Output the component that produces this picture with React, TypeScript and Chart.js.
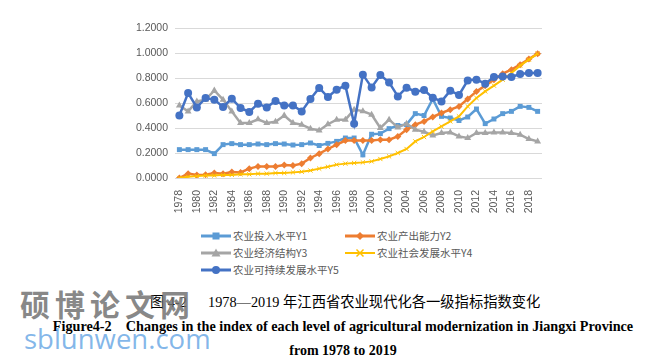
import React, { useEffect, useRef } from "react";
import { Chart, registerables } from "chart.js";

Chart.register(...registerables);

const years = [
  "1978", "1979", "1980", "1981", "1982", "1983", "1984", "1985", "1986", "1987",
  "1988", "1989", "1990", "1991", "1992", "1993", "1994", "1995", "1996", "1997",
  "1998", "1999", "2000", "2001", "2002", "2003", "2004", "2005", "2006", "2007",
  "2008", "2009", "2010", "2011", "2012", "2013", "2014", "2015", "2016", "2017",
  "2018", "2019",
];

const y1 = [
  0.227, 0.227, 0.227, 0.227, 0.195, 0.267, 0.275, 0.267, 0.267, 0.272,
  0.267, 0.275, 0.272, 0.264, 0.267, 0.28, 0.26, 0.277, 0.293, 0.32,
  0.32, 0.185, 0.35, 0.355, 0.395, 0.42, 0.427, 0.515, 0.5, 0.632,
  0.493, 0.48, 0.46, 0.488, 0.552, 0.435, 0.472, 0.515, 0.533, 0.573,
  0.565, 0.533,
];
const y2 = [
  0, 0.035, 0.024, 0.027, 0.04, 0.035, 0.048, 0.045, 0.075, 0.093,
  0.093, 0.093, 0.104, 0.101, 0.115, 0.16, 0.195, 0.232, 0.267, 0.3,
  0.3, 0.3, 0.3, 0.307, 0.307, 0.333, 0.387, 0.427, 0.453, 0.488,
  0.52, 0.547, 0.573, 0.632, 0.693, 0.739, 0.787, 0.835, 0.867, 0.907,
  0.952, 0.995,
];
const y3 = [
  0.58, 0.533, 0.613, 0.627, 0.7, 0.627, 0.533, 0.44, 0.44, 0.47,
  0.44, 0.45, 0.5, 0.44, 0.427, 0.395, 0.38, 0.43, 0.467, 0.467,
  0.547, 0.535, 0.507, 0.4, 0.467, 0.405, 0.435, 0.387, 0.37, 0.34,
  0.36, 0.365, 0.333, 0.32, 0.36, 0.36, 0.365, 0.365, 0.36, 0.347,
  0.312, 0.293,
];
const y4 = [
  0, 0.01, 0.015, 0.02, 0.02, 0.025, 0.025, 0.03, 0.03, 0.035,
  0.035, 0.04, 0.04, 0.045, 0.05, 0.06, 0.075, 0.09, 0.107, 0.115,
  0.12, 0.125, 0.133, 0.152, 0.173, 0.2, 0.232, 0.293, 0.328, 0.373,
  0.413, 0.453, 0.493, 0.573, 0.64, 0.693, 0.739, 0.787, 0.84, 0.899,
  0.947, 0.995,
];
const y5 = [
  0.5, 0.68, 0.565, 0.64, 0.627, 0.568, 0.635, 0.56, 0.528, 0.595,
  0.565, 0.616, 0.58, 0.58, 0.533, 0.632, 0.72, 0.648, 0.707, 0.739,
  0.435, 0.827, 0.725, 0.824, 0.765, 0.653, 0.723, 0.69, 0.704, 0.643,
  0.613, 0.699, 0.664, 0.781, 0.787, 0.755, 0.808, 0.813, 0.808, 0.832,
  0.84, 0.84,
];

const seriesNames = ["农业投入水平Y1", "农业产出能力Y2", "农业经济结构Y3", "农业社会发展水平Y4", "农业可持续发展水平Y5"];
const seriesColors = ["#5B9BD5", "#ED7D31", "#A5A5A5", "#FFC000", "#4472C4"];
const seriesShapes = ["rect", "rectRot", "triangle", "crossRot", "circle"];
const seriesData = [y1, y2, y3, y4, y5];

const captionCnA = "图 4-2";
const captionCnB = "1978—2019 年江西省农业现代化各一级指标指数变化";
const captionEn1 = "Figure4-2\u00a0\u00a0\u00a0 Changes in the index of each level of agricultural modernization in Jiangxi Province";
const captionEn2 = "from 1978 to 2019";

function Marker({ shape, color }: { shape: string; color: string }) {
  const cx = 15, cy = 5;
  let m: any = null;
  if (shape === "rect") m = <rect x={cx - 3.5} y={cy - 3.5} width={7} height={7} fill={color} />;
  else if (shape === "rectRot") m = <polygon points={`${cx},${cy - 4} ${cx + 4},${cy} ${cx},${cy + 4} ${cx - 4},${cy}`} fill={color} />;
  else if (shape === "triangle") m = <polygon points={`${cx},${cy - 4.5} ${cx + 4.5},${cy + 3.5} ${cx - 4.5},${cy + 3.5}`} fill={color} />;
  else if (shape === "crossRot") m = (
    <g stroke={color} strokeWidth={1.5}>
      <line x1={cx - 3.5} y1={cy - 3.5} x2={cx + 3.5} y2={cy + 3.5} />
      <line x1={cx - 3.5} y1={cy + 3.5} x2={cx + 3.5} y2={cy - 3.5} />
    </g>
  );
  else m = <circle cx={cx} cy={cy} r={4} fill={color} />;
  return (
    <svg width={30} height={10} style={{ display: "block" }}>
      <line x1={0} y1={5} x2={30} y2={5} stroke={color} strokeWidth={shape === "crossRot" ? 2 : 3} />
      {m}
    </svg>
  );
}

export default function App() {
  const ref = useRef<HTMLCanvasElement | null>(null);
  useEffect(() => {
    if (!ref.current) return;
    const chart = new Chart(ref.current, {
      type: "line",
      data: {
        labels: years,
        datasets: seriesData.map((d, i) => ({
          label: seriesNames[i],
          data: d,
          borderColor: seriesColors[i],
          backgroundColor: seriesColors[i],
          borderWidth: i === 3 ? 2 : 2.5,
          pointStyle: seriesShapes[i] as any,
          pointRadius: i === 0 ? 3.5 : i === 3 ? 3 : i === 1 ? 3.5 : 4,
          pointBorderWidth: i === 3 ? 1 : 0,
          pointBorderColor: seriesColors[i],
          fill: false,
          tension: 0,
          order: 5 - i,
        })),
      },
      options: {
        animation: false,
        responsive: false,
        maintainAspectRatio: false,
        layout: { padding: { left: 125, right: 129, top: 28, bottom: 0 } },
        plugins: { legend: { display: false }, tooltip: { enabled: false } },
        scales: {
          x: {
            offset: true,
            grid: { display: false },
            border: { display: false },
            ticks: {
              autoSkip: false,
              maxRotation: 90,
              minRotation: 90,
              padding: 4,
              color: "#595959",
              font: { family: "'Liberation Sans', sans-serif", size: 10.5 },
              callback: (_v: any, idx: number) => (idx % 2 === 0 ? years[idx] : ""),
            },
            afterFit: (s: any) => { s.height = 42; },
          },
          y: {
            min: 0,
            max: 1.2,
            grid: { color: "#D9D9D9", drawTicks: false, lineWidth: 1 },
            border: { display: false },
            ticks: {
              stepSize: 0.2,
              padding: 7,
              color: "#595959",
              font: { family: "'Liberation Sans', sans-serif", size: 10.5 },
              callback: (v: any) => Number(v).toFixed(4),
            },
            afterFit: (s: any) => { s.width = 50; },
          },
        },
      },
    });
    return () => chart.destroy();
  }, []);

  const legendPos = [
    { x: 201, y: 236 },
    { x: 345, y: 236 },
    { x: 201, y: 253 },
    { x: 345, y: 253 },
    { x: 201, y: 270 },
  ];

  const cnFont = { fontFamily: "'Liberation Serif', 'Noto Sans CJK SC', serif", fontSize: 14.3, color: "#000", lineHeight: "20px", whiteSpace: "nowrap" as const };

  return (
    <div style={{ position: "absolute", left: 0, top: 0, width: 671, height: 359, background: "#fff", overflow: "hidden" }}>
      <canvas ref={ref} width={671} height={220} style={{ position: "absolute", left: 0, top: 0, width: 671, height: 220 }} />
      {seriesNames.map((n, i) => (
        <div key={n} style={{ position: "absolute", left: legendPos[i].x, top: legendPos[i].y - 8, height: 16, display: "flex", alignItems: "center", whiteSpace: "nowrap" }}>
          <Marker shape={seriesShapes[i]} color={seriesColors[i]} />
          <span style={{ marginLeft: 2, fontFamily: "'Noto Sans CJK SC', sans-serif", fontSize: 10.5, color: "#595959", lineHeight: "16px" }}>{n}</span>
        </div>
      ))}
      <div style={{ position: "absolute", left: 150, top: 292, ...cnFont }}>{captionCnA}</div>
      <div style={{ position: "absolute", left: 208, top: 292, ...cnFont }}>{captionCnB}</div>
      <div style={{ position: "absolute", left: 343 - 400, width: 800, top: 316, textAlign: "center", whiteSpace: "nowrap", fontFamily: "'Liberation Serif', serif", fontWeight: "bold", fontSize: 14.2, color: "#000", lineHeight: "20px" }}>
        {captionEn1}
      </div>
      <div style={{ position: "absolute", left: 343 - 400, width: 800, top: 341, textAlign: "center", whiteSpace: "nowrap", fontFamily: "'Liberation Serif', serif", fontWeight: "bold", fontSize: 14, color: "#000", lineHeight: "20px" }}>
        {captionEn2}
      </div>
      <div style={{ position: "absolute", left: 20, top: 283, whiteSpace: "nowrap", fontFamily: "'Noto Sans CJK SC', sans-serif", fontWeight: 700, fontSize: 30, letterSpacing: 5, color: "rgba(115,115,115,0.85)", lineHeight: "40px" }}>
        硕博论文网
      </div>
      <div style={{ position: "absolute", left: 24, top: 322, whiteSpace: "nowrap", fontFamily: "'Open Sans', sans-serif", fontSize: 27.5, color: "rgba(110,170,230,0.85)", lineHeight: "34px" }}>
        sblunwen.com
      </div>
    </div>
  );
}
